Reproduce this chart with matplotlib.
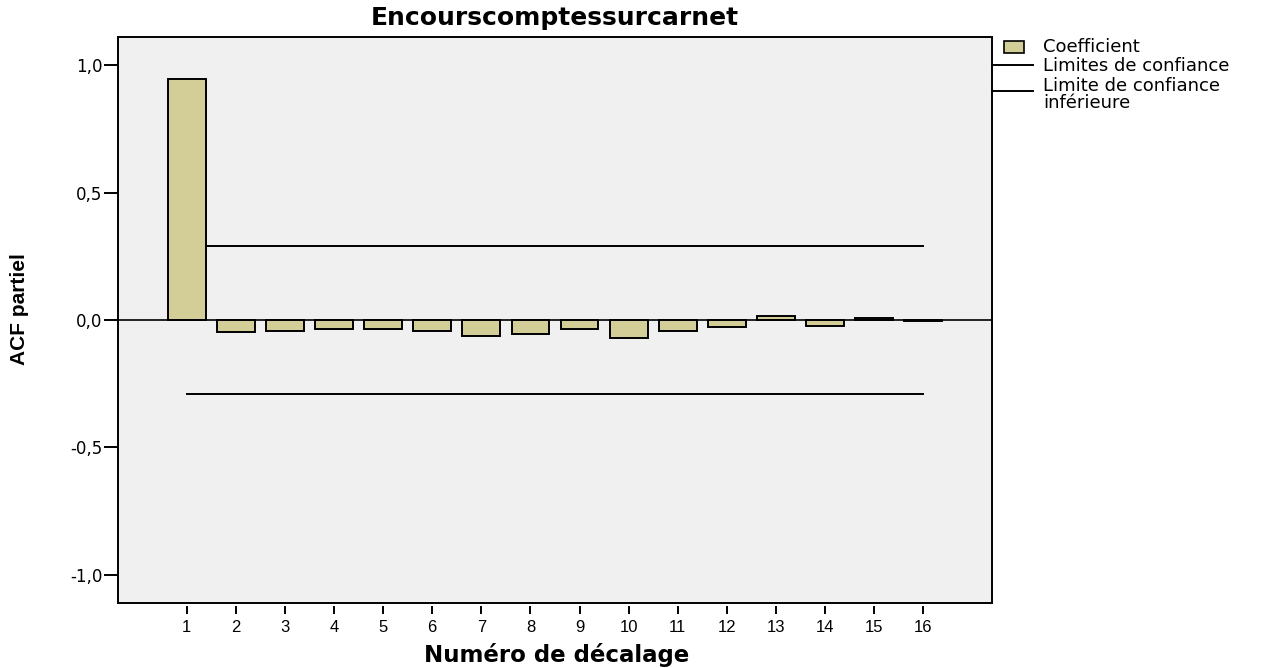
import numpy as np
import matplotlib
matplotlib.use("Agg")
from matplotlib import pyplot as plt
from matplotlib.patches import Rectangle
from matplotlib.lines import Line2D

# Partial autocorrelation by lag
lags = list(range(1, 17))
pacf = [0.944, -0.046, -0.042, -0.034, -0.037, -0.045, -0.062, -0.054,
        -0.037, -0.070, -0.042, -0.028, 0.015, -0.023, 0.006, -0.003]
conf_upper = [0.29] * len(lags)
conf_lower = [-0.29] * len(lags)

yticks = [-1.0, -0.5, 0.0, 0.5, 1.0]
ytick_labels = ["-1,0", "-0,5", "0,0", "0,5", "1,0"]
legend_labels = ["Coefficient", "Limites de confiance", "Limite de confiance\ninférieure"]

bar_color = "#d3ce98"
bg_color = "#f0f0f0"

W, H = 1272, 668
fig = plt.figure(figsize=(W / 100, H / 100), dpi=100)
ax = fig.add_axes([118 / W, 1 - 603 / H, (992 - 118) / W, (603 - 37) / H])
ax.set_facecolor(bg_color)

ax.bar(lags, pacf, width=0.77, color=bar_color, edgecolor="black",
       linewidth=1.4, zorder=3)
ax.axhline(0, color="black", linewidth=1.2, zorder=4)
ax.plot(lags, conf_upper, color="black", linewidth=1.4, zorder=2)
ax.plot(lags, conf_lower, color="black", linewidth=1.4, zorder=2)

ax.set_xlim(-0.4, 17.4)
ax.set_ylim(-1.11, 1.11)

# frame drawn separately so the x ticks can sit a little below it
for s in ax.spines.values():
    s.set_visible(False)
ax.spines["bottom"].set_position(("outward", 2))
ax.add_patch(Rectangle((0, 0), 1, 1, transform=ax.transAxes, fill=False,
                       edgecolor="black", linewidth=1.4, zorder=5, clip_on=False))

ax.set_xticks(lags)
ax.set_xticklabels([str(l) for l in lags], fontfamily="Liberation Sans", fontsize=12)
ax.set_yticks(yticks)
ax.set_yticklabels(ytick_labels, fontfamily="DejaVu Sans", fontsize=12)
ax.tick_params(axis="x", direction="out", length=6, width=1.4, pad=4)
ax.tick_params(axis="y", direction="out", length=10, width=1.4, pad=1)

fig.text(555 / W, 1 - 18 / H, "Encourscomptessurcarnet", ha="center", va="center",
         fontfamily="DejaVu Sans", fontweight="bold", fontsize=18)
fig.text(557 / W, 1 - 655 / H, "Numéro de décalage", ha="center", va="center",
         fontfamily="DejaVu Sans", fontweight="bold", fontsize=16.5)
fig.text(20 / W, 1 - 309 / H, "ACF partiel", ha="center", va="center", rotation=90,
         fontfamily="Liberation Sans", fontweight="bold", fontsize=15)

# legend to the right of the plot
fig.add_artist(Rectangle((1004 / W, 1 - 53 / H), 20 / W, 12 / H, transform=fig.transFigure,
                         facecolor=bar_color, edgecolor="black", linewidth=1.2))
for y in (65, 91):
    fig.add_artist(Line2D([992 / W, 1033 / W], [1 - y / H, 1 - y / H],
                          transform=fig.transFigure, color="black", linewidth=1.4))
fig.text(1043 / W, 1 - 47 / H, legend_labels[0], va="center", fontfamily="DejaVu Sans", fontsize=13)
fig.text(1043 / W, 1 - 66 / H, legend_labels[1], va="center", fontfamily="DejaVu Sans", fontsize=13)
fig.text(1043 / W, 1 - 77 / H, legend_labels[2], va="top", fontfamily="DejaVu Sans",
         fontsize=13, linespacing=0.9)

fig.savefig("out.png", dpi=100, facecolor="white")
